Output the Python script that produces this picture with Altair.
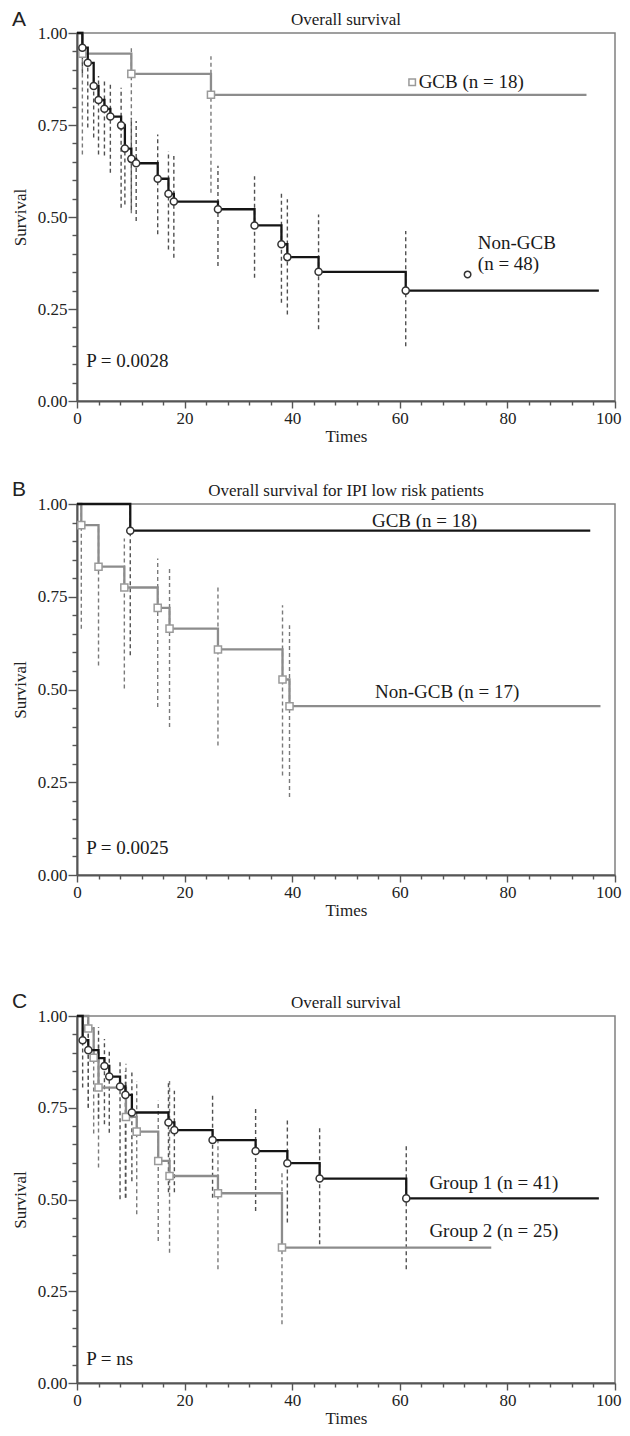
import altair as alt
import pandas as pd

FONT = "Liberation Serif"
BLACK = "#151515"
GRAY = "#8c8c8c"
CI_BLACK = "#505050"
CI_GRAY = "#7a7a7a"

X_TICKS = list(range(0, 101, 4))
Y_TICKS = [round(i * 0.05, 2) for i in range(21)]

# ---------------- Panel A ----------------
A_gcb_t = [1.0, 10.1, 24.9]
A_gcb_s = [0.944, 0.889, 0.832]
A_gcb_lo = [0.67, 0.51, 0.566]
A_gcb_hi = [1.0, 0.96, 0.937]
A_gcb_end = 94.7

A_non_t = [1.0, 2.0, 3.1, 4.0, 5.1, 6.2, 8.2, 8.9, 10.1, 11.0, 15.0, 17.0, 18.0,
           26.2, 33.0, 38.0, 39.1, 44.9, 61.1]
A_non_s = [0.960, 0.919, 0.856, 0.818, 0.794, 0.773, 0.749, 0.686, 0.658, 0.646,
           0.604, 0.563, 0.542, 0.521, 0.477, 0.426, 0.391, 0.351, 0.300]
A_non_lo = [0.89, 0.743, 0.716, 0.67, 0.667, 0.62, 0.525, 0.534, 0.52, 0.489,
            0.453, 0.412, 0.389, 0.367, 0.335, 0.267, 0.235, 0.195, 0.149]
A_non_hi = [1.0, 0.937, 0.879, 0.883, 0.874, 0.865, 0.851, 0.756, 0.77, 0.761,
            0.724, 0.679, 0.666, 0.639, 0.611, 0.566, 0.548, 0.507, 0.462]
A_non_end = 97.0

A_labels = ["GCB (n = 18)", "Non-GCB", "(n = 48)", "P = 0.0028"]
A_label_t = [63.5, 74.5, 74.5, 1.7]
A_label_s = [0.868, 0.429, 0.373, 0.11]
A_key_t = [62.3, 72.6]
A_key_s = [0.866, 0.344]

# ---------------- Panel B ----------------
B_gcb_t = [9.9]
B_gcb_s = [0.928]
B_gcb_lo = [0.592]
B_gcb_hi = [1.0]
B_gcb_end = 95.4

B_non_t = [0.8, 4.0, 8.8, 15.0, 17.2, 26.2, 38.2, 39.5]
B_non_s = [0.943, 0.831, 0.775, 0.720, 0.664, 0.608, 0.527, 0.455]
B_non_lo = [0.664, 0.565, 0.503, 0.453, 0.399, 0.349, 0.268, 0.210]
B_non_hi = [1.0, 0.94, 0.907, 0.853, 0.826, 0.783, 0.727, 0.673]
B_non_end = 97.3

B_labels = ["GCB (n = 18)", "Non-GCB (n = 17)"]
B_label_t = [64.6, 68.8]
B_label_s = [0.954, 0.492]
B_p = "P = 0.0025"
B_p_t = 1.7
B_p_s = 0.072

# ---------------- Panel C ----------------
C_g1_t = [1.05, 2.1, 4.0, 5.1, 6.0, 8.0, 9.0, 10.2, 17.0, 18.1, 25.2, 33.2, 39.1, 45.1, 61.2]
C_g1_s = [0.934, 0.907, 0.885, 0.864, 0.835, 0.808, 0.785, 0.737, 0.710, 0.689,
          0.662, 0.632, 0.599, 0.557, 0.503]
C_g1_mark = [1, 1, 0, 1, 1, 1, 1, 1, 1, 1, 1, 1, 1, 1, 1]
C_g1_lo = [0.805, 0.75, 0.72, 0.705, 0.682, 0.501, 0.505, 0.55, 0.52, 0.52,
           0.505, 0.469, 0.437, 0.378, 0.31]
C_g1_hi = [1.0, 1.0, 0.97, 0.937, 0.909, 0.877, 0.85, 0.846, 0.823, 0.796,
           0.787, 0.755, 0.723, 0.696, 0.65]
C_g1_end = 97.0

C_g2_t = [2.1, 3.1, 4.0, 9.1, 11.1, 15.1, 17.2, 26.2, 38.1]
C_g2_s = [0.966, 0.886, 0.805, 0.725, 0.685, 0.605, 0.564, 0.517, 0.369]
C_g2_lo = [0.75, 0.68, 0.587, 0.505, 0.46, 0.387, 0.355, 0.31, 0.16]
C_g2_hi = [1.0, 0.97, 0.93, 0.87, 0.823, 0.769, 0.823, 0.66, 0.578]
C_g2_end = 77.0

C_labels = ["Group 1 (n = 41)", "Group 2 (n = 25)", "P = ns"]
C_label_t = [65.5, 65.5, 1.7]
C_label_s = [0.545, 0.415, 0.066]

PANEL_W = 538
TICK_TEST_X = "datum.value % 20 === 0"
TICK_TEST_Y = "abs(datum.value * 4 - round(datum.value * 4)) < 0.001"
LAST_X = "datum.value === 100"


def x_enc(field="t"):
    return alt.X(
        f"{field}:Q",
        scale=alt.Scale(domain=[0, 100], nice=False, zero=False),
        axis=alt.Axis(
            values=X_TICKS,
            grid=False,
            labelFlush=False,
            labelExpr=f"{TICK_TEST_X} ? datum.value : ''",
            labelAlign={"condition": {"test": LAST_X, "value": "right"}, "value": "center"},
            labelOffset={"condition": {"test": LAST_X, "value": 6}, "value": 0},
            tickSize={"condition": {"test": TICK_TEST_X, "value": 7}, "value": 4},
            labelPadding=2,
            titlePadding=2,
            title="Times",
        ),
    )


def y_enc(field, height):
    return alt.Y(
        f"{field}:Q",
        scale=alt.Scale(domain=[0, 1], nice=False, zero=False),
        axis=alt.Axis(
            values=Y_TICKS,
            grid=False,
            labelFlush=False,
            labelExpr=f"{TICK_TEST_Y} ? format(datum.value, '.2f') : ''",
            tickSize={"condition": {"test": TICK_TEST_Y, "value": 9}, "value": 5},
            labelPadding=1,
            title="Survival",
            titleX=-52,
            titleY=height / 2,
            titleAngle=-90,
            titleAlign="center",
            titleBaseline="alphabetic",
        ),
    )


def km_layers(times, surv, lo, hi, end, color, ci_color, shape, stroke, height, mark=None):
    steps = pd.DataFrame({"t": [0.0] + list(times) + [end],
                          "s": [1.0] + list(surv) + [surv[-1]]})
    ci = pd.DataFrame({"t": times, "lo": lo, "hi": hi})
    if mark is None:
        mark = [1] * len(times)
    pts = pd.DataFrame({"t": times, "s": surv, "m": mark})
    pts = pts[pts["m"] == 1]
    rule = alt.Chart(ci).mark_rule(color=ci_color, strokeWidth=1.4, strokeDash=[4, 3]).encode(
        x=x_enc(), y=y_enc("lo", height), y2="hi:Q")
    line = alt.Chart(steps).mark_line(interpolate="step-after", color=color, strokeWidth=2.3).encode(
        x=x_enc(), y=y_enc("s", height))
    point = alt.Chart(pts).mark_point(shape=shape, filled=True, fill="white", stroke=stroke,
                                      strokeWidth=1.5, size=50, opacity=1).encode(
        x=x_enc(), y=y_enc("s", height))
    return rule, line, point


def text_layer(labels, ts, ss, height, align="left", size=19):
    df = pd.DataFrame({"label": labels, "t": ts, "s": ss})
    return alt.Chart(df).mark_text(align=align, baseline="middle", font=FONT, fontSize=size,
                                   color="#1a1a1a").encode(
        x=x_enc(), y=y_enc("s", height), text="label:N")


def header_layers(letter, title_text, y_off):
    dl = pd.DataFrame({"label": [letter]})
    dt = pd.DataFrame({"label": [title_text]})
    let = alt.Chart(dl).mark_text(align="left", baseline="alphabetic", font="Liberation Sans",
                                  fontSize=21, color="#222").encode(
        x=alt.value(-65), y=alt.value(y_off), text="label:N")
    tit = alt.Chart(dt).mark_text(align="center", baseline="alphabetic", font=FONT,
                                  fontSize=17, color="#1a1a1a").encode(
        x=alt.value(PANEL_W / 2), y=alt.value(-8), text="label:N")
    return let, tit


# ---- A
hA = 368
a_gray = km_layers(A_gcb_t, A_gcb_s, A_gcb_lo, A_gcb_hi, A_gcb_end, GRAY, CI_GRAY, "square", "#9a9a9a", hA)
a_black = km_layers(A_non_t, A_non_s, A_non_lo, A_non_hi, A_non_end, BLACK, CI_BLACK, "circle", "#333", hA)
keyA = pd.DataFrame({"t": A_key_t, "s": A_key_s, "shape": ["square", "circle"]})
a_keys = alt.Chart(keyA).mark_point(filled=True, fill="white", strokeWidth=1.5, size=42, opacity=1).encode(
    x=x_enc(), y=y_enc("s", hA),
    shape=alt.Shape("shape:N", scale=alt.Scale(domain=["square", "circle"], range=["square", "circle"]), legend=None),
    stroke=alt.Stroke("shape:N", scale=alt.Scale(domain=["square", "circle"], range=["#9a9a9a", "#333"]), legend=None),
)
panelA = alt.layer(
    a_gray[0], a_black[0], a_gray[1], a_black[1], a_gray[2], a_black[2], a_keys,
    text_layer(A_labels, A_label_t, A_label_s, hA),
    *header_layers("A", "Overall survival", -7),
).properties(width=PANEL_W, height=hA)

# ---- B
hB = 371
b_black = km_layers(B_gcb_t, B_gcb_s, B_gcb_lo, B_gcb_hi, B_gcb_end, BLACK, CI_BLACK, "circle", "#333", hB)
b_gray = km_layers(B_non_t, B_non_s, B_non_lo, B_non_hi, B_non_end, GRAY, CI_GRAY, "square", "#9a9a9a", hB)
panelB = alt.layer(
    b_gray[0], b_black[0], b_gray[1], b_black[1], b_gray[2], b_black[2],
    text_layer(B_labels, B_label_t, B_label_s, hB, align="center"),
    text_layer([B_p], [B_p_t], [B_p_s], hB),
    *header_layers("B", "Overall survival for IPI low risk patients", -8),
).properties(width=PANEL_W, height=hB)

# ---- C
hC = 367
c_black = km_layers(C_g1_t, C_g1_s, C_g1_lo, C_g1_hi, C_g1_end, BLACK, CI_BLACK, "circle", "#333", hC, C_g1_mark)
c_gray = km_layers(C_g2_t, C_g2_s, C_g2_lo, C_g2_hi, C_g2_end, GRAY, CI_GRAY, "square", "#9a9a9a", hC)
panelC = alt.layer(
    c_gray[0], c_black[0], c_gray[1], c_black[1], c_gray[2], c_black[2],
    text_layer(C_labels, C_label_t, C_label_s, hC),
    *header_layers("C", "Overall survival", -8),
).properties(width=PANEL_W, height=hC)

chart = alt.vconcat(
    alt.vconcat(panelA, panelB, spacing=33),
    panelC,
    spacing=71,
).properties(
    padding={"left": 2, "top": 0, "right": 0, "bottom": 0},
    background="white",
).configure_view(
    stroke="#808080", strokeWidth=1.5
).configure_axis(
    domainColor="#555", domainWidth=2, tickColor="#555", tickWidth=1.4,
    labelFont=FONT, labelFontSize=17, labelColor="#222",
    titleFont=FONT, titleFontSize=17, titleFontWeight="normal", titleColor="#222",
    grid=False,
)

chart.save("out.html", embed_options={"renderer": "svg", "actions": False})
